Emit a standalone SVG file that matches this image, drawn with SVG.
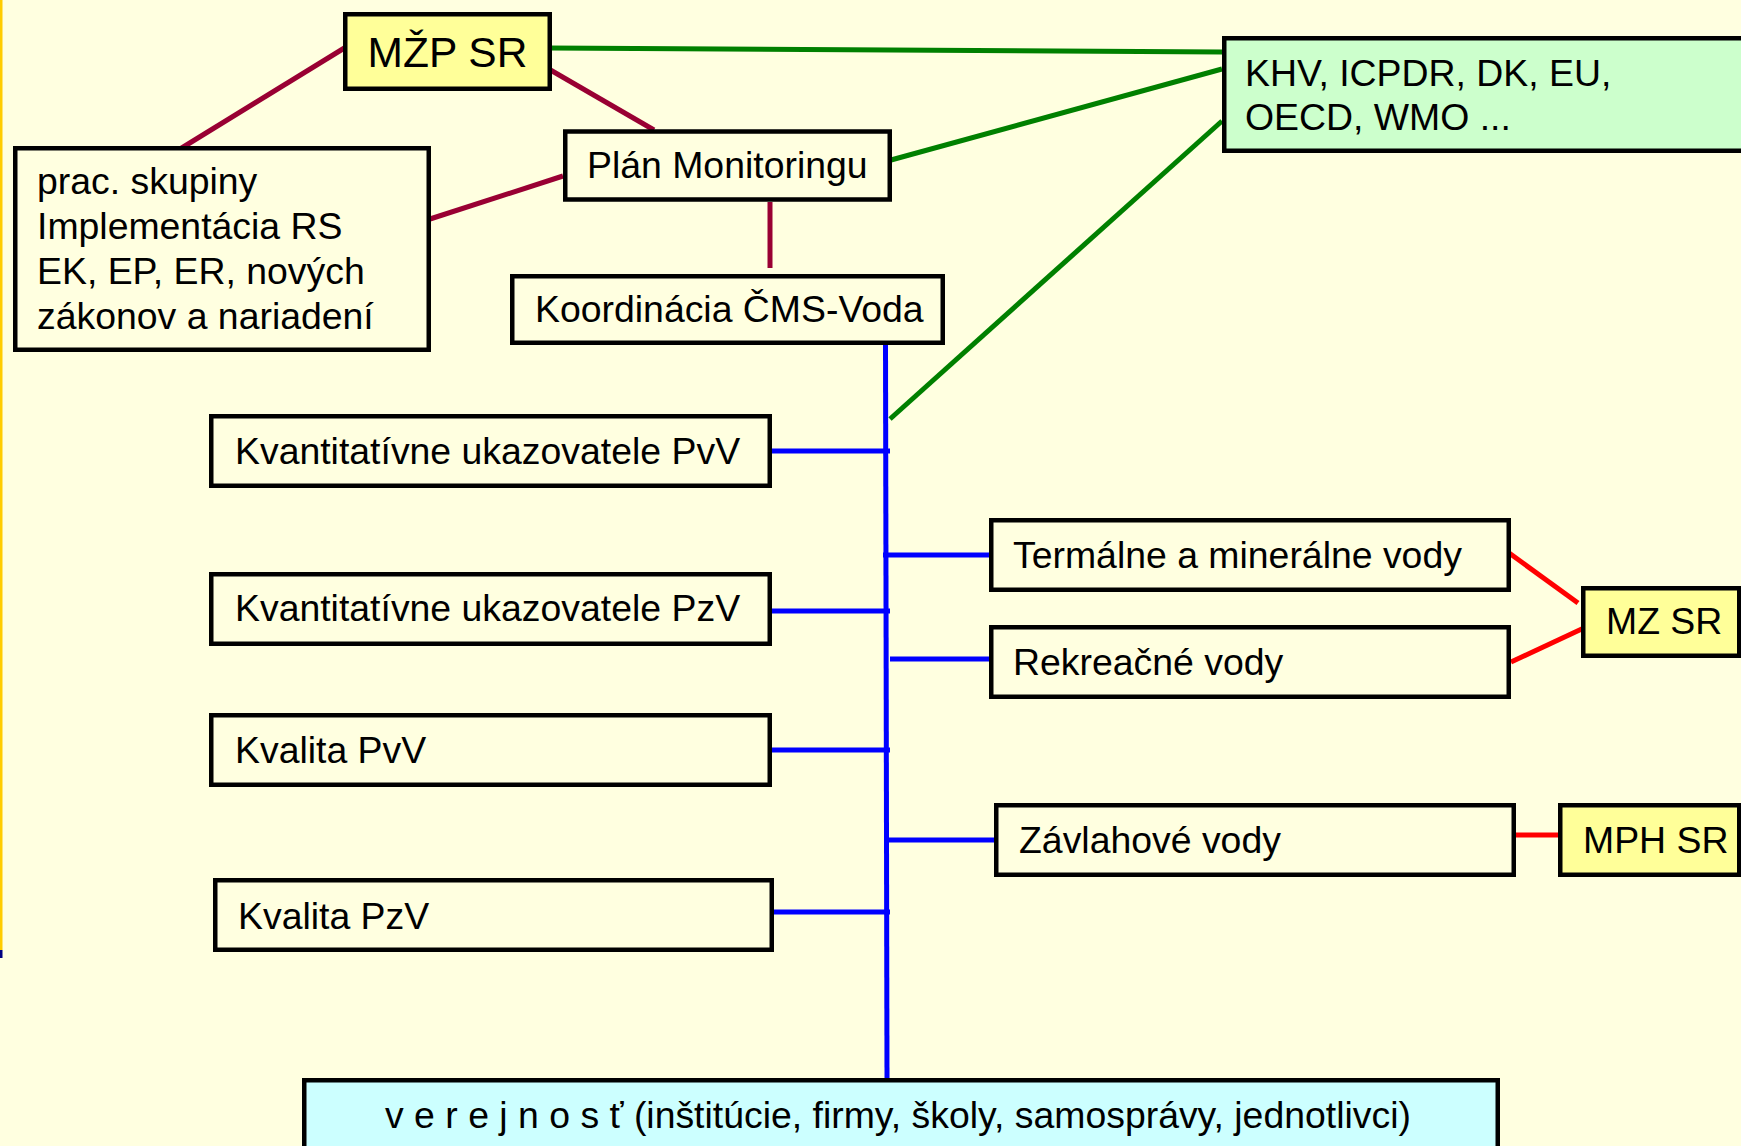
<svg xmlns="http://www.w3.org/2000/svg" width="1741" height="1146" viewBox="0 0 1741 1146">
<style>
.box{fill:#FFFFE0;stroke:#000;stroke-width:4.5}
.yel{fill:#FFFF99}
.grn{fill:#CCFFCC}
.cyan{fill:#CCFFFF}
text{font-family:"Liberation Sans",Arial,sans-serif;font-size:37.4px;fill:#000}
.maroon{stroke:#990033;stroke-width:5;fill:none}
.green{stroke:#008000;stroke-width:5;fill:none}
.blue{stroke:#0000FF;stroke-width:5;fill:none}
.red{stroke:#FF0000;stroke-width:5;fill:none}
</style>
<rect x="0" y="0" width="1741" height="1146" fill="#FFFFE0"/>
<rect x="0" y="0" width="2.5" height="950" fill="#FFCC00"/>
<rect x="0" y="950" width="2.5" height="8" fill="#000080"/>
<g id="connectors">
<line class="maroon" x1="346" y1="47" x2="180" y2="149"/>
<line class="maroon" x1="547" y1="68" x2="654" y2="130"/>
<line class="maroon" x1="430" y1="219" x2="563" y2="176"/>
<line class="maroon" x1="770" y1="202" x2="770" y2="268"/>
<line class="green" x1="549" y1="48" x2="1222" y2="52"/>
<line class="green" x1="891" y1="160" x2="1222" y2="69"/>
<line class="green" x1="890" y1="419" x2="1222" y2="121"/>
<line class="blue" x1="885.5" y1="345" x2="887" y2="1080"/>
<line class="blue" x1="772" y1="451" x2="890" y2="451"/>
<line class="blue" x1="883" y1="555" x2="989" y2="555"/>
<line class="blue" x1="772" y1="611" x2="890" y2="611"/>
<line class="blue" x1="890" y1="659" x2="995" y2="659"/>
<line class="blue" x1="772" y1="750" x2="890" y2="750"/>
<line class="blue" x1="885" y1="840" x2="995" y2="840"/>
<line class="blue" x1="774" y1="912" x2="890" y2="912"/>
<line class="red" x1="1505" y1="550" x2="1578" y2="603"/>
<line class="red" x1="1511" y1="662" x2="1586" y2="627"/>
<line class="red" x1="1508" y1="835" x2="1558" y2="835"/>
</g>
<g id="mzp">
<rect class="box yel" x="345.25" y="14.25" width="204.5" height="74.5"/>
<text x="447.5" y="67" text-anchor="middle" style="font-size:42.5px">MŽP SR</text>
</g>
<g id="prac">
<rect class="box" x="15.25" y="148.25" width="413.5" height="201.5"/>
<text x="37" y="193.5">prac. skupiny</text>
<text x="37" y="238.8">Implementácia RS</text>
<text x="37" y="284.1">EK, EP, ER, nových</text>
<text x="37" y="329.4">zákonov a nariadení</text>
</g>
<g id="plan">
<rect class="box" x="565.25" y="131.5" width="324.5" height="68"/>
<text x="587" y="178">Plán Monitoringu</text>
</g>
<g id="koord">
<rect class="box" x="512.25" y="276.25" width="430.5" height="66.5"/>
<text x="535" y="322">Koordinácia ČMS-Voda</text>
</g>
<g id="khv">
<rect class="box grn" x="1224.25" y="38.25" width="600" height="112.5"/>
<text x="1245" y="86">KHV, ICPDR, DK, EU,</text>
<text x="1245" y="130">OECD, WMO ...</text>
</g>
<g id="kvant-pvv">
<rect class="box" x="211.25" y="416.25" width="558.5" height="69.5"/>
<text x="235" y="464">Kvantitatívne ukazovatele PvV</text>
</g>
<g id="kvant-pzv">
<rect class="box" x="211.25" y="574.25" width="558.5" height="69.5"/>
<text x="235" y="621">Kvantitatívne ukazovatele PzV</text>
</g>
<g id="kval-pvv">
<rect class="box" x="211.25" y="715.25" width="558.5" height="69.5"/>
<text x="235" y="763">Kvalita PvV</text>
</g>
<g id="kval-pzv">
<rect class="box" x="215.25" y="880.25" width="556.5" height="69.5"/>
<text x="238" y="929">Kvalita PzV</text>
</g>
<g id="termalne">
<rect class="box" x="991.25" y="520.25" width="517.5" height="69.5"/>
<text x="1013" y="568">Termálne a minerálne vody</text>
</g>
<g id="rekreacne">
<rect class="box" x="991.25" y="627.25" width="517.5" height="69.5"/>
<text x="1013" y="675">Rekreačné vody</text>
</g>
<g id="zavlahove">
<rect class="box" x="996.25" y="805.25" width="517.5" height="69.5"/>
<text x="1019" y="853">Závlahové vody</text>
</g>
<g id="mz">
<rect class="box yel" x="1583.25" y="588.25" width="156" height="67.5"/>
<text x="1606" y="634">MZ SR</text>
</g>
<g id="mph">
<rect class="box yel" x="1560.25" y="805.25" width="179" height="69.5"/>
<text x="1583" y="853">MPH SR</text>
</g>
<g id="verejnost">
<rect class="box cyan" x="304.25" y="1080.25" width="1193.5" height="100"/>
<text x="898" y="1128" text-anchor="middle">v e r e j n o s ť (inštitúcie, firmy, školy, samosprávy, jednotlivci)</text>
</g>
</svg>
